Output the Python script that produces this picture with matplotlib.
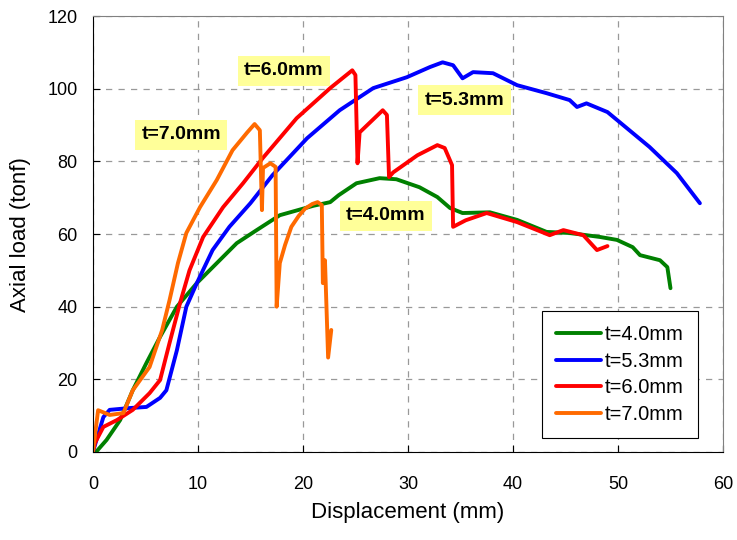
import matplotlib
matplotlib.use("Agg")
import matplotlib.pyplot as plt

plt.rcParams['font.family'] = ['Liberation Sans', 'DejaVu Sans']

# t=4.0mm
x40 = [0.3, 1.3, 2.6, 3.8, 5.1, 6.4, 8.0, 9.9, 11.8, 13.7, 15.6, 17.8, 21.0, 22.6, 23.4,
       25.1, 27.3, 28.9, 31.1, 32.8, 34.0, 35.2, 37.8, 40.4, 43.2, 45.4, 48.3, 49.9, 51.4,
       52.1, 54.0, 54.7, 55.0]
y40 = [0.0, 3.3, 8.8, 17.0, 24.5, 31.7, 40.0, 46.5, 52.0, 57.5, 61.1, 65.2, 67.8, 68.8, 70.7,
       74.0, 75.4, 75.1, 72.9, 70.2, 67.2, 65.8, 66.0, 63.9, 60.6, 60.3, 59.2, 58.4, 56.4,
       54.2, 52.8, 50.9, 45.1]

# t=5.3mm
x53 = [0.0, 1.0, 1.6, 3.5, 5.1, 6.4, 7.0, 8.0, 8.9, 9.9, 11.4, 13.0, 15.0, 17.1, 20.4,
       23.5, 26.7, 29.9, 32.1, 33.3, 34.3, 35.2, 36.2, 38.1, 40.4, 43.2, 45.4, 46.1, 47.0,
       49.0, 50.5, 53.0, 55.6, 57.8]
y53 = [0.0, 9.6, 11.6, 12.1, 12.4, 14.9, 17.0, 28.0, 40.0, 46.5, 55.6, 62.0, 68.5, 76.2, 86.4,
       94.1, 100.2, 103.2, 106.0, 107.3, 106.5, 102.9, 104.6, 104.3, 101.0, 98.8, 96.9, 95.0, 96.0,
       93.6, 90.0, 84.0, 76.8, 68.5]

# t=6.0mm
x60 = [0.0, 0.2, 1.0, 2.3, 3.8, 5.4, 6.4, 7.3, 8.3, 9.2, 10.5, 12.4, 14.3, 16.2, 19.4,
       22.6, 24.7, 25.0, 25.2, 25.4, 27.6, 28.0, 28.2, 28.6, 30.9, 32.8, 33.5, 34.2, 34.3,
       35.5, 37.5, 40.4, 42.3, 43.5, 44.8, 46.7, 48.0, 49.0]
y60 = [0.0, 2.5, 6.9, 8.8, 11.6, 16.2, 19.8, 30.0, 41.0, 50.0, 59.2, 67.4, 74.0, 81.0, 91.9,
       100.2, 105.1, 103.8, 79.5, 88.0, 94.1, 92.8, 75.7, 77.0, 81.7, 84.5, 83.7, 79.0, 62.0,
       63.8, 65.8, 63.3, 61.1, 59.7, 61.1, 59.7, 55.6, 56.7]

# t=7.0mm
x70 = [0.0, 0.5, 1.6, 2.9, 3.8, 5.4, 6.6, 7.3, 8.1, 8.9, 10.2, 11.8, 13.3, 14.7, 15.4,
       15.9, 16.1, 16.2, 16.9, 17.4, 17.5, 17.8, 18.3, 18.9, 19.6, 20.2, 20.9, 21.4, 21.8,
       21.9, 22.1, 22.4, 22.7]
y70 = [0.0, 11.5, 10.2, 10.7, 17.0, 23.4, 33.6, 41.8, 52.0, 60.3, 67.4, 74.9, 83.1, 88.0, 90.3,
       88.6, 66.6, 78.2, 79.5, 78.5, 40.0, 52.0, 57.0, 62.0, 65.0, 67.0, 68.3, 68.8, 68.0,
       46.5, 52.8, 26.0, 33.6]

labels = ['t=4.0mm', 't=5.3mm', 't=6.0mm', 't=7.0mm']
colors = ['#008000', '#0000FF', '#FF0000', '#FF6A00']
label_pos = [(27.9, 65.0), (35.4, 96.9), (18.2, 105.0), (8.4, 87.3)]

fig = plt.figure(figsize=(7.37, 5.4), dpi=100)
ax = fig.add_axes([0.126, 0.163, 0.855, 0.807])

for xs, ys, lab, c in zip([x40, x53, x60, x70], [y40, y53, y60, y70], labels, colors):
    ax.plot(xs, ys, color=c, lw=2.8, label=lab, solid_joinstyle='round',
            solid_capstyle='round')

for lab, (tx, ty) in zip(labels, label_pos):
    ax.text(tx, ty, lab, fontsize=14, fontweight='bold', ha='center', va='center',
            bbox=dict(boxstyle='square,pad=0.33', fc='#FFFF99', ec='none'))

ax.set_xlim(0, 60)
ax.set_ylim(0, 120)
ax.set_xticks(range(0, 61, 10))
ax.set_yticks(range(0, 121, 20))
ax.tick_params(direction='in', length=5, labelsize=13)
ax.tick_params(axis='x', pad=17)
ax.tick_params(axis='y', pad=11)
ax.grid(True, ls=(0, (5, 5)), color='#999999', lw=0.9)
ax.set_axisbelow(True)
for s in ['top', 'right']:
    ax.spines[s].set_color('#808080')
ax.set_xlabel('Displacement (mm)', fontsize=16, labelpad=7)
ax.set_ylabel('Axial load (tonf)', fontsize=16, labelpad=12)

leg = ax.legend(loc='lower right', bbox_to_anchor=(0.96, 0.032), borderaxespad=0,
                fontsize=14.5, fancybox=False, edgecolor='black', framealpha=1,
                handlelength=2.2, handletextpad=0.2, borderpad=0.7, labelspacing=0.38)
leg.get_frame().set_linewidth(0.8)

fig.savefig('out.png', dpi=100)
